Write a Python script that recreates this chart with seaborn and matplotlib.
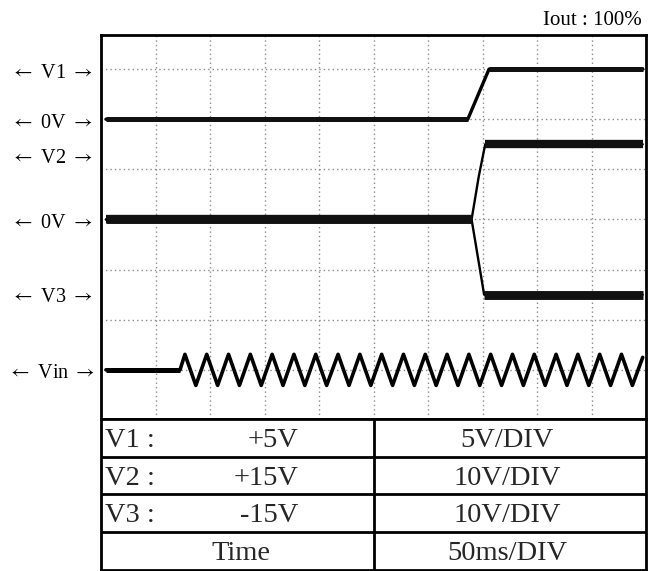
import matplotlib
matplotlib.use("Agg")
import matplotlib.pyplot as plt
import seaborn as sns
import pandas as pd

# ---- data (time in divisions of 50 ms, vertical in screen divisions) ----
v1_t = [0.09, 6.73, 7.12, 9.94]
v1_y = [5.0, 5.0, 6.0, 6.0]

v2_t = [0.09, 6.80, 6.93, 7.05, 9.94]
v2_y = [3.0, 3.0, 3.85, 4.5, 4.5]

v3_t = [0.09, 6.80, 7.03, 9.94]
v3_y = [3.0, 3.0, 1.5, 1.5]

vin_t = [0.09, 1.45,
         1.54, 1.74, 1.94, 2.14, 2.34, 2.54, 2.74, 2.94, 3.14, 3.34,
         3.54, 3.74, 3.94, 4.14, 4.35, 4.55, 4.75, 4.95, 5.15, 5.35,
         5.55, 5.75, 5.95, 6.15, 6.35, 6.55, 6.75, 6.95, 7.15, 7.35,
         7.55, 7.75, 7.95, 8.15, 8.35, 8.55, 8.75, 8.95, 9.15, 9.35,
         9.55, 9.75, 9.94]
vin_y = [0.0, 0.0,
         0.31, -0.31, 0.31, -0.31, 0.31, -0.31, 0.31, -0.31, 0.31, -0.31,
         0.31, -0.31, 0.31, -0.31, 0.31, -0.31, 0.31, -0.31, 0.31, -0.31,
         0.31, -0.31, 0.31, -0.31, 0.31, -0.31, 0.31, -0.31, 0.31, -0.31,
         0.31, -0.31, 0.31, -0.31, 0.31, -0.31, 0.31, -0.31, 0.31, -0.31,
         0.31, -0.31, 0.25]

label_names = ["V1", "0V", "V2", "0V", "V3", "Vin"]
label_level = [6.0, 5.0, 4.29, 3.0, 1.52, 0.0]

table_names = ["V1 :", "V2 :", "V3 :"]
table_values = ["+5V", "+15V", "-15V"]
table_scales = ["5V/DIV", "10V/DIV", "10V/DIV"]
time_label = "Time"
time_scale = "50ms/DIV"
title_text = "Iout : 100%"

x_div = list(range(1, 10))
y_div = list(range(0, 7))

# ---- style ----
sns.set_theme(style="white")
plt.rcParams['font.family'] = ['Liberation Serif', 'DejaVu Serif']
plt.rcParams['mathtext.fontset'] = 'stix'

W, H = 651, 571
fig = plt.figure(figsize=(W / 100, H / 100), dpi=100)
ax = fig.add_axes([101 / W, 1 - 419 / H, 545 / W, (419 - 35) / H])
ax.set_xlim(0, 10)
ax.set_ylim(-0.98, 6.68)
ax.set_xticks(x_div)
ax.set_yticks(y_div)
ax.tick_params(length=0, labelbottom=False, labelleft=False)
ax.grid(True, linestyle=(0, (1, 2.2)), color="#8a8a8a", linewidth=1.0)
for s in ax.spines.values():
    s.set_color("black")
    s.set_linewidth(2.0)

def trace(t, y, thin, thick):
    df = pd.DataFrame({"t": t, "y": y})
    sns.lineplot(data=df, x="t", y="y", ax=ax, color="black", linewidth=thin,
                 sort=False, estimator=None, solid_joinstyle="round")
    head = df.iloc[:2]
    tail = df.iloc[-2:]
    for part in (head, tail):
        sns.lineplot(data=part, x="t", y="y", ax=ax, color="#111111",
                     linewidth=thick, sort=False, estimator=None,
                     solid_capstyle="butt")

trace(v1_t, v1_y, 2.4, 3.6)
trace(v2_t, v2_y, 1.7, 6.0)
trace(v3_t, v3_y, 1.7, 6.4)

df_vin = pd.DataFrame({"t": vin_t, "y": vin_y})
sns.lineplot(data=df_vin, x="t", y="y", ax=ax, color="black", linewidth=2.6,
             sort=False, estimator=None, solid_joinstyle="round")
sns.lineplot(data=df_vin.iloc[:2], x="t", y="y", ax=ax, color="black",
             linewidth=3.6, sort=False, estimator=None, solid_capstyle="butt")
ax.set_xlabel("")
ax.set_ylabel("")

for name, lv in zip(label_names, label_level):
    ax.text(-0.905, lv - 0.17, r"$\leftarrow$ " + name + r" $\rightarrow$",
            ha="center", va="baseline", fontsize=14.5, color="black",
            clip_on=False)

fig.text(642 / W, 1 - 25 / H, title_text, ha="right", va="baseline",
         fontsize=15, color="black")

# ---- table ----
tb = fig.add_axes([101 / W, 1 - 569.5 / H, 545 / W, (569.5 - 419) / H])
tb.set_xlim(0, 1)
tb.set_ylim(0, 4)
tb.set_xticks([])
tb.set_yticks([])
tb.set_facecolor("white")
for s in tb.spines.values():
    s.set_color("black")
    s.set_linewidth(2.0)
for r in (1, 2, 3):
    tb.axhline(r, color="black", linewidth=2.0)
tb.axvline(0.501, color="black", linewidth=2.0)

fs = 20.5
for i in range(3):
    yc = 3.5 - i
    tb.text(0.007, yc - 0.25, table_names[i], ha="left", va="baseline", fontsize=fs)
    tb.text(0.363, yc - 0.25, table_values[i], ha="right", va="baseline", fontsize=fs)
    tb.text(0.745, yc - 0.25, table_scales[i], ha="center", va="baseline", fontsize=fs)
tb.text(0.257, 0.5 - 0.25, time_label, ha="center", va="baseline", fontsize=fs)
tb.text(0.745, 0.5 - 0.25, time_scale, ha="center", va="baseline", fontsize=fs)

fig.savefig("out.png", dpi=100, facecolor="white")
